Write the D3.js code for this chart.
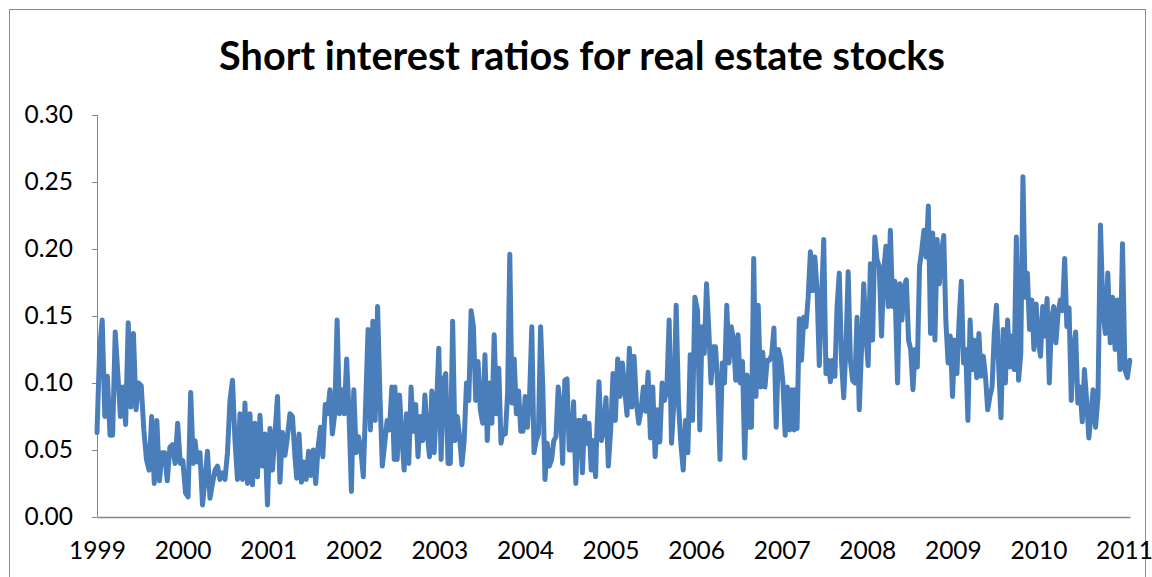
<!DOCTYPE html>
<html><head><meta charset="utf-8">
<script src="https://cdn.jsdelivr.net/npm/d3@7"></script>
<style>html,body{margin:0;padding:0;background:#fff;} svg{display:block;}</style>
</head><body><svg id="c" width="1152" height="577"></svg>
<script>
const chartTitle = "Short interest ratios for real estate stocks";
const yearTicks = [1999,2000,2001,2002,2003,2004,2005,2006,2007,2008,2009,2010,2011];
const valueTicks = [0,0.05,0.10,0.15,0.20,0.25,0.30];
// date span (decimal years) covered by each stretch of readings
const segStart = [1999.00,2000.145,2001.333,2002.481,2003.669,2004.838,2006.017,2007.154,2008.354,2009.537,2010.639];
const segEnd   = [2000.125,2001.313,2002.473,2003.641,2004.826,2005.986,2007.146,2008.322,2009.510,2010.589,2011.068];
const s1 = [0.063,0.125,0.147,0.075,0.105,0.061,0.061,0.138,0.107,0.075,0.097,0.069,0.145,0.082,0.137,0.080,0.100,0.098,0.065,0.043,0.035,0.075,0.025,0.072,0.027,0.048,0.048,0.027,0.052,0.054,0.040,0.070,0.040,0.042,0.018,0.015,0.093,0.040];
const s2 = [0.057,0.041,0.048,0.009,0.028,0.049,0.014,0.025,0.035,0.038,0.028,0.033,0.028,0.048,0.087,0.102,0.057,0.028,0.077,0.028,0.085,0.025,0.077,0.024,0.070,0.030,0.076,0.038,0.062,0.009,0.066,0.035,0.062,0.090,0.026,0.063,0.046,0.060,0.077,0.075,0.045];
const s3 = [0.029,0.062,0.026,0.041,0.028,0.049,0.031,0.050,0.025,0.052,0.067,0.045,0.084,0.077,0.095,0.062,0.077,0.147,0.077,0.095,0.077,0.118,0.077,0.019,0.095,0.048,0.060,0.050,0.030,0.085,0.140,0.065,0.146,0.072,0.157,0.090,0.038,0.055,0.072,0.065,0.097,0.043];
const s4 = [0.097,0.043,0.091,0.060,0.035,0.077,0.040,0.097,0.064,0.084,0.045,0.075,0.057,0.091,0.062,0.045,0.094,0.048,0.082,0.126,0.043,0.102,0.107,0.040,0.040,0.146,0.057,0.075,0.060,0.039,0.057,0.100,0.087,0.154,0.142,0.087,0.116,0.080,0.070,0.121,0.057,0.100,0.070,0.136];
const s5 = [0.077,0.111,0.055,0.065,0.062,0.092,0.196,0.085,0.118,0.077,0.094,0.064,0.064,0.090,0.067,0.091,0.142,0.048,0.057,0.062,0.142,0.097,0.028,0.055,0.038,0.043,0.057,0.060,0.097,0.082,0.040,0.102,0.103,0.050,0.050,0.086,0.025,0.072,0.072,0.033,0.075,0.055,0.070,0.035,0.057,0.030];
const s6 = [0.060,0.101,0.057,0.065,0.089,0.038,0.065,0.107,0.072,0.118,0.090,0.115,0.095,0.076,0.126,0.082,0.120,0.085,0.070,0.080,0.097,0.079,0.108,0.059,0.097,0.045,0.080,0.056,0.100,0.087,0.095,0.147,0.055,0.085,0.158,0.085,0.055,0.035,0.072,0.048,0.121,0.072,0.164];
const s7 = [0.154,0.065,0.142,0.122,0.174,0.140,0.100,0.127,0.127,0.097,0.043,0.115,0.100,0.158,0.115,0.142,0.132,0.102,0.136,0.100,0.116,0.044,0.106,0.067,0.067,0.193,0.090,0.158,0.097,0.123,0.097,0.117,0.117,0.121,0.141,0.067,0.125,0.118,0.100,0.061,0.097,0.065,0.095,0.065];
const s8 = [0.095,0.066,0.148,0.117,0.149,0.142,0.164,0.198,0.169,0.194,0.169,0.113,0.162,0.207,0.107,0.117,0.101,0.117,0.105,0.157,0.182,0.117,0.089,0.127,0.183,0.117,0.102,0.100,0.149,0.080,0.125,0.174,0.135,0.113,0.189,0.132,0.209,0.192,0.187,0.135,0.184,0.202,0.157,0.214,0.157,0.176];
const s9 = [0.100,0.174,0.147,0.172,0.177,0.132,0.125,0.095,0.125,0.112,0.187,0.199,0.214,0.194,0.232,0.137,0.212,0.132,0.207,0.174,0.197,0.210,0.145,0.115,0.135,0.090,0.132,0.107,0.147,0.176,0.115,0.125,0.072,0.147,0.110,0.132,0.104,0.137,0.105,0.120,0.105,0.080,0.090,0.097,0.137,0.158];
const s10 = [0.110,0.074,0.140,0.100,0.147,0.112,0.135,0.110,0.209,0.102,0.122,0.254,0.164,0.182,0.140,0.162,0.125,0.159,0.132,0.120,0.157,0.135,0.163,0.100,0.147,0.157,0.130,0.152,0.162,0.154,0.193,0.142,0.156,0.087,0.125,0.138,0.085,0.097,0.071,0.110,0.087,0.059];
const s11 = [0.095,0.067,0.090,0.218,0.154,0.137,0.182,0.130,0.164,0.125,0.162,0.110,0.204,0.110,0.104,0.117];
const segments = [s1,s2,s3,s4,s5,s6,s7,s8,s9,s10,s11];

const points = [];
segments.forEach((seg, k) => {
  seg.forEach((v, i) => {
    points.push({t: segStart[k] + (segEnd[k] - segStart[k]) * i / (seg.length - 1), v});
  });
});

const svg = d3.select("#c");
const font = "Lato, 'Open Sans', sans-serif";
const plotL = 97, plotR = 1130, plotT = 115, plotB = 517;

svg.append("rect").attr("x", 9.5).attr("y", 9.5).attr("width", 1136).attr("height", 600)
  .attr("fill", "#fff").attr("stroke", "#8c8c8c").attr("stroke-width", 1);

const x = d3.scaleLinear().domain([1999, 2011.07]).range([plotL, plotR]);
const y = d3.scaleLinear().domain([0, 0.30]).range([plotB, plotT]);

// title
const t = svg.append("text").attr("x", 582).attr("y", 70).attr("text-anchor", "middle")
  .attr("font-family", font).attr("font-weight", "bold").attr("font-size", 34)
  .attr("fill", "#000").text(chartTitle);
const w = t.node().getComputedTextLength();
t.attr("font-size", 34 * 726 / w);

// y axis
const yAxis = d3.axisLeft(y).tickValues(valueTicks).tickFormat(d3.format(".2f")).tickSize(5).tickPadding(19);
const gy = svg.append("g").attr("transform", `translate(${plotL},0)`).call(yAxis);
gy.select(".domain").attr("stroke", "#868686").attr("d", `M0.5,${plotT}V${plotB}`);
gy.selectAll(".tick line").attr("stroke", "#868686");
gy.selectAll(".tick text").attr("font-family", font).attr("font-size", 24.5).attr("fill", "#000");

// x axis
const xAxis = d3.axisBottom(x).tickValues(yearTicks).tickFormat(d3.format("d")).tickSize(0).tickPadding(25);
const gx = svg.append("g").attr("transform", `translate(0,${plotB})`).call(xAxis);
gx.select(".domain").attr("stroke", "#868686").attr("stroke-width", 1.5);
gx.selectAll(".tick text").attr("font-family", font).attr("font-size", 24.5).attr("fill", "#000");

// line
const line = d3.line().x(d => x(d.t)).y(d => y(d.v));
svg.append("path").datum(points).attr("d", line).attr("fill", "none")
  .attr("stroke", "#4a7ebb").attr("stroke-width", 5)
  .attr("stroke-linejoin", "round").attr("stroke-linecap", "round");
</script>
</body></html>
